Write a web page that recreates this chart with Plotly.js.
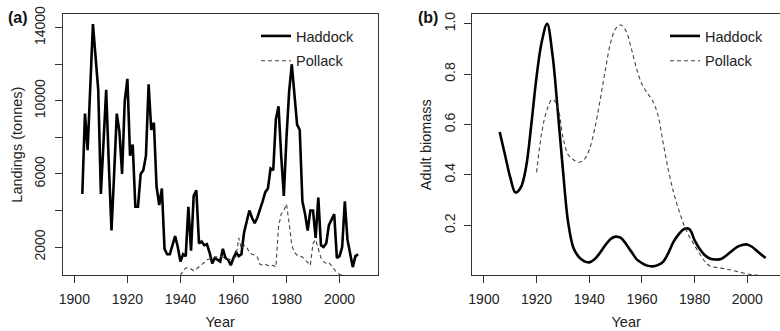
<!DOCTYPE html>
<html>
<head>
<meta charset="utf-8">
<script src="https://cdn.plot.ly/plotly-3.0.1.min.js"></script>
<style>html,body{margin:0;padding:0;background:#fff;}#chart{width:780px;height:331px;}</style>
</head>
<body>
<div id="chart"></div>
<script>
// ---- Panel (a): landings (tonnes) ----
const landingYearsHaddock = [
  1903,1904,1905,1906,1907,1908,1909,
  1910,1911,1912,1913,1914,1915,1916,1917,1918,1919,
  1920,1921,1922,1923,1924,1925,1926,1927,1928,1929,
  1930,1931,1932,1933,1934,1935,1936,1937,1938,1939,
  1940,1941,1942,1943,1944,1945,1946,1947,1948,1949,
  1950,1951,1952,1953,1954,1955,1956,1957,1958,1959,
  1960,1961,1962,1963,1964,1965,1966,1967,1968,1969,
  1970,1971,1972,1973,1974,1975,1976,1977,1978,1979,
  1980,1981,1982,1983,1984,1985,1986,1987,1988,1989,
  1990,1991,1992,1993,1994,1995,1996,1997,1998,1999,
  2000,2001,2002,2003,2004,2005,2006,2007];
const landingsHaddock = [
  4900,9300,7300,10800,14200,12400,10600,
  4900,7500,10600,6500,2900,6000,9300,8300,6000,10000,
  11200,7000,7600,4200,4200,6000,6200,7000,10900,8400,
  8800,5300,4300,5200,1900,1600,1600,2100,2600,2000,
  1200,1600,1500,4200,1800,4800,5100,2200,2300,2100,
  2150,1700,1100,1400,1300,1200,1900,1400,1300,1000,
  1400,1700,1500,1600,2800,3500,4000,3600,3300,3600,
  4000,4500,5000,5200,6300,6200,9000,9700,7000,4800,
  8000,10500,12000,10500,8700,8400,4500,3800,2900,4000,
  4000,2500,4700,2100,2000,2200,3200,3500,3800,1400,
  1500,2000,4500,2400,1600,900,1500,1600];
const landingYearsPollack = [
  1940,1941,1942,1943,1944,1945,1946,1947,1948,1949,
  1950,1951,1952,1953,1954,1955,1956,1957,1958,1959,
  1960,1961,1962,1963,1964,1965,1966,1967,1968,1969,
  1970,1971,1972,1973,1974,1975,1976,1977,1978,1979,
  1980,1981,1982,1983,1984,1985,1986,1987,1988,1989,
  1990,1991,1992,1993,1994,1995,1996,1997,1998,1999,
  2000,2001,2002,2003,2004,2005,2006,2007];
const landingsPollack = [
  450,700,850,870,800,700,800,900,1000,1150,
  1300,1350,1400,1450,1480,1500,1450,1400,1350,1300,
  1350,1500,2500,1900,2100,2000,1700,1600,1550,1450,
  1050,1000,1050,1000,950,1000,900,3100,3800,4000,
  4350,3300,2100,1700,1550,1500,1450,1300,1150,1000,
  2200,2400,1900,1400,1200,1100,1150,950,750,600,
  500,470,460,300,250,250,300,460];

// ---- Panel (b): adult biomass (relative) ----
const biomassYearsHaddock = [1906,1908,1910,1912,1914,1916,1918,1920,1922,1924,1926,1928,
  1930,1932,1934,1936,1938,1940,1942,1944,1946,1948,1950,1952,1954,1956,1958,
  1960,1962,1964,1966,1968,1970,1972,1974,1976,1978,1980,1982,1984,1986,1988,
  1990,1992,1994,1996,1998,2000,2002,2004,2006,2007];
const biomassHaddock = [0.57,0.48,0.39,0.33,0.35,0.43,0.60,0.79,0.93,1.00,0.88,0.66,
  0.42,0.21,0.11,0.075,0.058,0.053,0.065,0.09,0.12,0.145,0.155,0.15,0.125,0.095,0.065,
  0.05,0.04,0.037,0.042,0.055,0.09,0.135,0.165,0.185,0.185,0.14,0.105,0.08,0.067,0.064,
  0.066,0.08,0.097,0.113,0.122,0.124,0.113,0.095,0.078,0.07];
const biomassYearsPollack = [1920,1922,1924,1926,1928,1930,1932,1934,1936,1938,
  1940,1942,1944,1946,1948,1950,1952,1954,1956,1958,
  1960,1962,1964,1966,1968,1970,1972,1974,1976,1978,
  1980,1982,1984,1986,1988,1990,1992,1994,1996,1998,
  2000,2002,2004,2005];
const biomassPollack = [0.41,0.57,0.66,0.70,0.67,0.55,0.48,0.46,0.45,0.46,
  0.50,0.58,0.69,0.81,0.92,0.98,0.995,0.97,0.90,0.82,
  0.76,0.725,0.695,0.64,0.53,0.42,0.33,0.26,0.20,0.155,
  0.12,0.085,0.055,0.037,0.033,0.030,0.026,0.022,0.017,0.012,
  0.007,0.004,0.002,0.001];

const yearTicks = [1900,1920,1940,1960,1980,2000];
const landingTicks = [2000,4000,6000,8000,10000,12000,14000];
const landingTickText = ['2000','','6000','','10000','','14000'];
const biomassTicks = [0.2,0.4,0.6,0.8,1.0];
const seriesNames = ['Haddock','Pollack'];

const W = 780, H = 331;
const FONT = 'Liberation Sans, Arial, Helvetica, sans-serif';
const TXT = '#222';
const AX = '#333';

const solid = {color:'#000', width:2.6};
const dashed = {color:'#444', width:1.1, dash:'4px,3px'};

const traces = [
  {x:landingYearsHaddock, y:landingsHaddock, type:'scatter', mode:'lines', name:seriesNames[0],
   line:solid, xaxis:'x', yaxis:'y', legend:'legend', legendgroup:'ha'},
  {x:landingYearsPollack, y:landingsPollack, type:'scatter', mode:'lines', name:seriesNames[1],
   line:dashed, xaxis:'x', yaxis:'y', legend:'legend', legendgroup:'pa'},
  {x:biomassYearsHaddock, y:biomassHaddock, type:'scatter', mode:'lines', name:seriesNames[0],
   line:Object.assign({shape:'spline', smoothing:1}, solid), xaxis:'x2', yaxis:'y2', legend:'legend2', legendgroup:'hb'},
  {x:biomassYearsPollack, y:biomassPollack, type:'scatter', mode:'lines', name:seriesNames[1],
   line:Object.assign({shape:'spline', smoothing:1}, dashed), xaxis:'x2', yaxis:'y2', legend:'legend2', legendgroup:'pb'}
];

function xAxis(domain, range, anchor){
  return {domain:domain, range:range, anchor:anchor, showline:true, mirror:true, linecolor:AX, linewidth:1,
    ticks:'outside', ticklen:7, tickcolor:AX, tickwidth:1, tickvals:yearTicks,
    showgrid:false, zeroline:false, automargin:false, ticklabelstandoff:4,
    tickfont:{family:FONT, size:14, color:TXT},
    title:{text:'Year', font:{family:FONT, size:14.5, color:TXT}, standoff:10}};
}
function yAxis(domain, range, anchor, extra){
  return Object.assign({domain:domain, range:range, anchor:anchor, showline:true, linecolor:AX, linewidth:1,
    ticks:'outside', ticklen:7, tickcolor:AX, tickwidth:1, tickangle:-90,
    showgrid:false, zeroline:false, automargin:false, ticklabelstandoff:4,
    tickfont:{family:FONT, size:14, color:TXT}}, extra);
}

const yDom = [1 - 275.3/H, 1 - 14/H];
const legendBase = {yanchor:'top', xanchor:'left', bgcolor:'rgba(0,0,0,0)',
  font:{family:FONT, size:14.5, color:TXT}, tracegroupgap:3, itemwidth:30};
const layout = {
  width:W, height:H, margin:{l:0, r:0, t:0, b:0},
  paper_bgcolor:'#fff', plot_bgcolor:'#fff', showlegend:true,
  xaxis: xAxis([62.7/W, 377.7/W], [1895.6, 2014.4], 'y'),
  yaxis: yAxis(yDom, [452, 14749], 'x', {mirror:true, tickvals:landingTicks, ticktext:landingTickText,
    title:{text:'Landings (tonnes)', font:{family:FONT, size:14.5, color:TXT}, standoff:6}}),
  xaxis2: xAxis([472.3/W, 1], [1895.6, 2012.4], 'y2'),
  yaxis2: yAxis(yDom, [0.0016, 1.0384], 'x2', {mirror:false, tickvals:biomassTicks, tickformat:'.1f',
    title:{text:'Adult biomass', font:{family:FONT, size:14.5, color:TXT}, standoff:6}}),
  legend: Object.assign({x:256/W, y:1 - 20/H}, legendBase),
  legend2: Object.assign({x:665/W, y:1 - 20/H}, legendBase),
  annotations:[
    {text:'<b>(a)</b>', xref:'paper', yref:'paper', x:6/W, y:1 - 17/H, xanchor:'left', yanchor:'middle',
     showarrow:false, font:{family:FONT, size:16, color:'#111'}},
    {text:'<b>(b)</b>', xref:'paper', yref:'paper', x:416/W, y:1 - 17/H, xanchor:'left', yanchor:'middle',
     showarrow:false, font:{family:FONT, size:16, color:'#111'}}
  ]
};

Plotly.newPlot('chart', traces, layout, {staticPlot:true, displayModeBar:false});
</script>
</body>
</html>
